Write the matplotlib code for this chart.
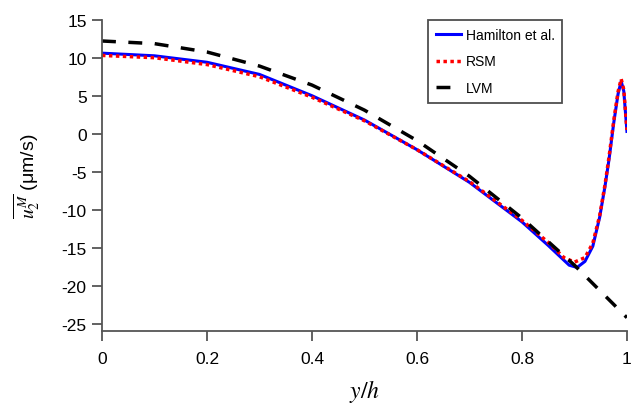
import numpy as np
import matplotlib
matplotlib.use('Agg')
import matplotlib.pyplot as plt

# Data (y/h, velocity in um/s)
x_ham = [0, 0.1, 0.2, 0.3, 0.4, 0.5, 0.6, 0.7, 0.8, 0.85, 0.89, 0.905,
         0.92, 0.935, 0.948, 0.958, 0.966, 0.975, 0.983, 0.989, 0.994, 1.0]
u_ham = [10.6, 10.25, 9.4, 7.8, 5.0, 1.8, -2.1, -6.4, -11.6, -14.7, -17.3, -17.6,
         -16.8, -14.8, -11.0, -7.0, -3.3, 1.5, 5.2, 6.9, 5.6, 0.3]

x_rsm = [0, 0.1, 0.2, 0.3, 0.4, 0.5, 0.6, 0.7, 0.8, 0.85, 0.88, 0.9,
         0.92, 0.935, 0.948, 0.958, 0.966, 0.975, 0.983, 0.989, 0.994, 1.0]
u_rsm = [10.3, 10.0, 9.1, 7.5, 4.8, 1.7, -2.1, -6.3, -11.4, -14.3, -16.3, -16.9,
         -16.3, -14.4, -10.8, -6.8, -3.0, 1.8, 5.5, 7.2, 5.8, 0.5]

x_lvm = [0, 0.1, 0.2, 0.3, 0.4, 0.5, 0.6, 0.7, 0.8, 0.9, 1.0]
u_lvm = [12.2, 11.85, 10.75, 8.9, 6.4, 3.1, -0.9, -5.6, -11.1, -17.3, -24.2]

xticks = [0, 0.2, 0.4, 0.6, 0.8, 1]
xticklabels = ['0', '0.2', '0.4', '0.6', '0.8', '1']
yticks = [15, 10, 5, 0, -5, -10, -15, -20, -25]

plt.rcParams['font.family'] = ['Liberation Sans', 'DejaVu Sans']
plt.rcParams['mathtext.fontset'] = 'stix'
plt.rcParams['axes.unicode_minus'] = False

fig = plt.figure(figsize=(6.32, 4.06), dpi=100)
ax = fig.add_axes([0.1614, 0.1815, 0.8306, 0.7675])

ax.plot(x_ham, u_ham, color='#0000ff', lw=2.2, label='Hamilton et al.')
ax.plot(x_rsm, u_rsm, color='#ff0000', lw=2.5, dashes=(1, 1), label='RSM')
ax.plot(x_lvm, u_lvm, color='black', lw=2.5, dashes=(4, 3.6), label='LVM')

ax.set_xlim(0, 1)
ax.set_ylim(-26, 15)
ax.set_xticks(xticks)
ax.set_xticklabels(xticklabels)
ax.set_yticks(yticks)

for s in ['top', 'right']:
    ax.spines[s].set_visible(False)
for s in ['left', 'bottom']:
    ax.spines[s].set_color('#555555')
    ax.spines[s].set_linewidth(1.3)
ax.tick_params(direction='out', length=7, width=1.3, color='#555555',
               labelsize=12.5)
ax.tick_params(axis='x', pad=7)
ax.tick_params(axis='y', pad=4)

ax.set_xlabel('$y/h$', fontsize=17, labelpad=8)
ax.set_ylabel(r'$\overline{u_2^M}$ (μm/s)', fontsize=14, labelpad=13)

leg = ax.legend(loc='upper right', bbox_to_anchor=(0.877, 0.998), fontsize=10,
                frameon=True, fancybox=False, handlelength=1.8,
                borderpad=0.55, labelspacing=0.9, handletextpad=0.35,
                borderaxespad=0.0)
leg.get_frame().set_edgecolor('#222222')
leg.get_frame().set_linewidth(1.3)

fig.savefig('out.png', dpi=100)
